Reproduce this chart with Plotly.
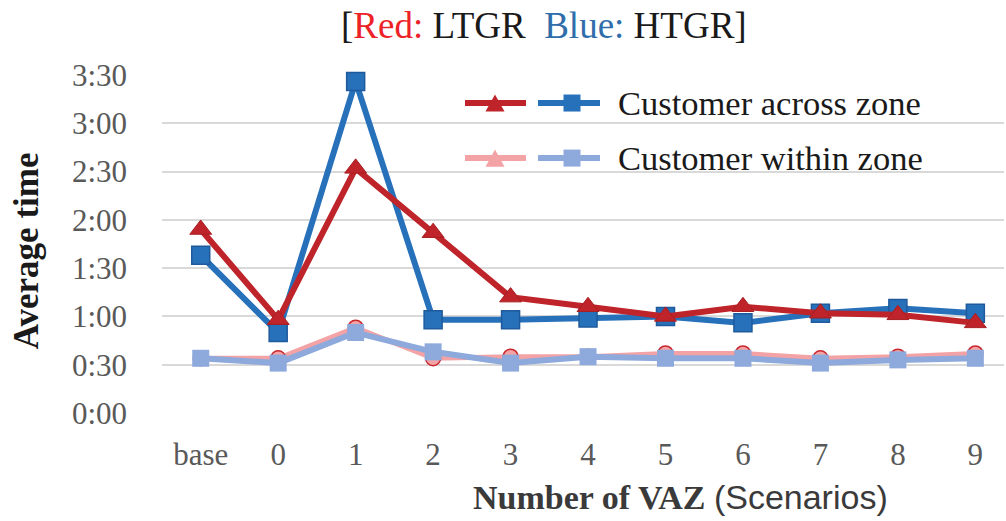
import plotly.graph_objects as go

# Scenario labels and average times (seconds)
scenarios = ["base", "0", "1", "2", "3", "4", "5", "6", "7", "8", "9"]
ltgr_across = [114, 58, 152, 112, 72, 66, 60, 66, 62, 61, 56]
htgr_across = [98, 50, 206, 58, 58, 59, 60, 56, 62, 65, 62]
ltgr_within = [34, 34, 53, 34, 35, 35, 37, 37, 34, 35, 37]
htgr_within = [34, 31, 50, 38, 31, 35, 34, 34, 31, 33, 34]

tick_secs = [0, 30, 60, 90, 120, 150, 180, 210]
tick_text = [f"{s // 60}:{s % 60:02d}" for s in tick_secs]

W, H = 1006, 521
L, R, T, B = 162, 1004, 75, 412.7


def px(x):
    return (x - L) / (R - L)


def py(y):
    return (B - y) / (B - T)


DARK_RED = "#BE2429"
BLUE = "#2770BA"
PINK = "#F3A3A5"
LIGHT_BLUE = "#8EA9DB"
SERIF = "Liberation Serif"

fig = go.Figure()

fig.add_trace(go.Scatter(
    x=scenarios, y=ltgr_within, mode="lines+markers",
    line=dict(color=PINK, width=5),
    marker=dict(symbol="circle", size=15, color=PINK,
                line=dict(color="#C8282D", width=1.5)),
    cliponaxis=False, showlegend=False))
fig.add_trace(go.Scatter(
    x=scenarios, y=htgr_within, mode="lines+markers",
    line=dict(color=LIGHT_BLUE, width=6),
    marker=dict(symbol="square", size=17, color=LIGHT_BLUE),
    cliponaxis=False, showlegend=False))
fig.add_trace(go.Scatter(
    x=scenarios, y=htgr_across, mode="lines+markers",
    line=dict(color=BLUE, width=6),
    marker=dict(symbol="square", size=18, color=BLUE,
                line=dict(color="#1E5A9C", width=1.5)),
    cliponaxis=False, showlegend=False))
fig.add_trace(go.Scatter(
    x=scenarios, y=ltgr_across, mode="lines+markers",
    line=dict(color=DARK_RED, width=6),
    marker=dict(symbol="triangle-up", size=19, color=DARK_RED,
                line=dict(color="#A81E22", width=1)),
    cliponaxis=False, showlegend=False))

shapes = []
annotations = []

# Legend panel
shapes.append(dict(type="rect", xref="paper", yref="paper",
                   x0=px(447), x1=px(1006), y0=py(200), y1=py(81),
                   fillcolor="white", line=dict(width=0), layer="between"))


def leg_line(x0, x1, y, color):
    shapes.append(dict(type="line", xref="paper", yref="paper",
                       x0=px(x0), x1=px(x1), y0=py(y), y1=py(y),
                       line=dict(color=color, width=6), layer="above"))


def leg_triangle(cx, cy, s, color):
    h = s * 0.9
    path = (f"M {px(cx - s / 2)},{py(cy + h / 2)} "
            f"L {px(cx + s / 2)},{py(cy + h / 2)} "
            f"L {px(cx)},{py(cy - h / 2)} Z")
    shapes.append(dict(type="path", xref="paper", yref="paper", path=path,
                       fillcolor=color, line=dict(width=0), layer="above"))


def leg_square(cx, cy, s, color):
    shapes.append(dict(type="rect", xref="paper", yref="paper",
                       x0=px(cx - s / 2), x1=px(cx + s / 2),
                       y0=py(cy + s / 2), y1=py(cy - s / 2),
                       fillcolor=color, line=dict(width=0), layer="above"))


rows = [(103, DARK_RED, BLUE, "Customer across zone"),
        (158, PINK, LIGHT_BLUE, "Customer within zone")]
for y, c1, c2, label in rows:
    leg_line(465, 526, y, c1)
    leg_triangle(495, y, 19, c1)
    leg_line(538, 600, y, c2)
    leg_square(572, y, 17, c2)
    annotations.append(dict(text=label, xref="paper", yref="paper",
                            x=px(616), y=py(y), xanchor="left", yanchor="middle",
                            showarrow=False,
                            font=dict(family=SERIF, size=34.5, color="#1A1A1A")))

# Title
annotations.append(dict(
    text=("[<span style='color:#EC2227'>Red:</span> LTGR&nbsp;&nbsp;"
          "<span style='color:#2F6EAB'>Blue:</span> HTGR]"),
    xref="paper", yref="paper", x=px(544), y=py(26),
    xanchor="center", yanchor="middle", showarrow=False,
    font=dict(family=SERIF, size=37, color="#1A1A1A")))

# Axis titles
annotations.append(dict(
    text="<b>Average time</b>", xref="paper", yref="paper",
    x=px(26), y=py(251), xanchor="center", yanchor="middle",
    textangle=-90, showarrow=False,
    font=dict(family=SERIF, size=35, color="#1A1A1A")))
annotations.append(dict(
    text=("<b>Number of VAZ</b> "
          "<span style='font-family:Liberation Sans Narrow, Liberation Sans'>(Scenarios)</span>"),
    xref="paper", yref="paper", x=px(680), y=py(497),
    xanchor="center", yanchor="middle", showarrow=False,
    font=dict(family=SERIF, size=34, color="#3A3A3A")))

fig.update_layout(
    width=W, height=H,
    margin=dict(l=L, r=W - R, t=T, b=H - B),
    paper_bgcolor="white", plot_bgcolor="white",
    shapes=shapes, annotations=annotations,
    xaxis=dict(type="category", range=[-0.5, 10.37], showgrid=False,
               zeroline=False, showline=False, ticks="",
               tickfont=dict(family=SERIF, size=31, color="#595959"),
               ticklabelstandoff=20),
    yaxis=dict(range=[0, 210], tickvals=tick_secs, ticktext=tick_text,
               showgrid=True, gridcolor="#D9D9D9", gridwidth=2,
               zeroline=False, showline=False, ticks="",
               tickfont=dict(family=SERIF, size=31, color="#595959"),
               ticklabelstandoff=34),
)

fig.write_html("out.html")
